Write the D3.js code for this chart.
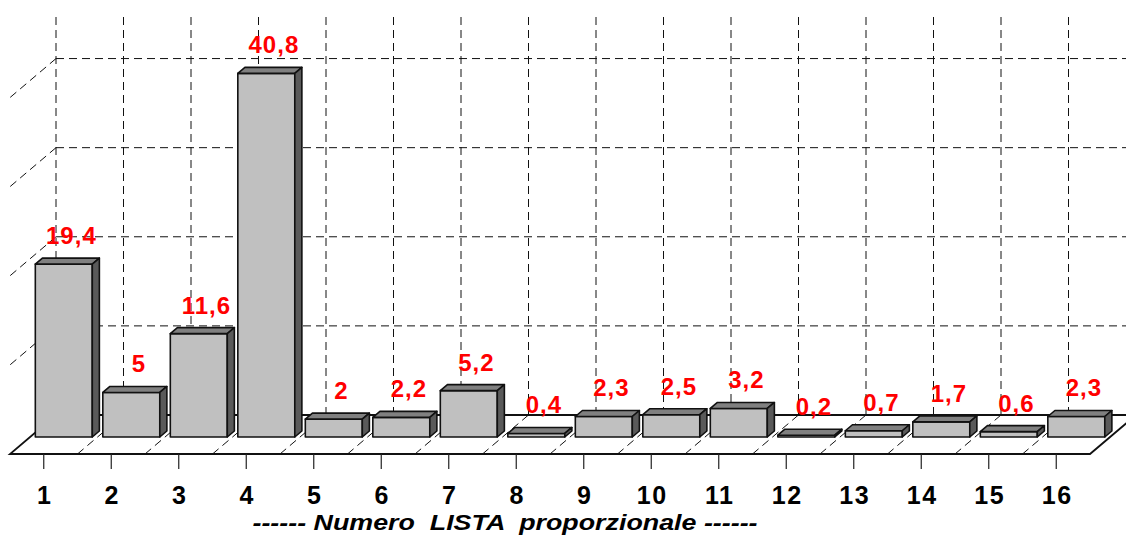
<!DOCTYPE html>
<html>
<head>
<meta charset="utf-8">
<script src="https://cdn.jsdelivr.net/npm/d3@7"></script>
<style>
  html, body { margin: 0; padding: 0; background: #fff; }
</style>
</head>
<body>
<div id="MyChart"></div>
<script>
var categories = ["1","2","3","4","5","6","7","8","9","10","11","12","13","14","15","16"];
var values = [19.4, 5, 11.6, 40.8, 2, 2.2, 5.2, 0.4, 2.3, 2.5, 3.2, 0.2, 0.7, 1.7, 0.6, 2.3];
var labels = ["19,4","5","11,6","40,8","2","2,2","5,2","0,4","2,3","2,5","3,2","0,2","0,7","1,7","0,6","2,3"];
var gridValues = [10, 20, 30, 40];

var width = 1126, height = 535;
var floorY = 454;            // front edge of the floor
var depthX = 46, depthY = 39; // full depth offset
var zFront = 0.436, zBack = 0.59;

var x = d3.scaleBand()
    .domain(categories)
    .range([10, 1090])
    .padding(0);

var y = d3.scaleLinear()
    .domain([0, 45])
    .range([0, 401]);

// oblique projection: px, value, depth -> screen
function P(px, v, z) {
  return [px + z * depthX, floorY - z * depthY - y(v)];
}

var svg = d3.select("#MyChart").append("svg")
    .attr("width", width)
    .attr("height", height)
    .style("font-family", "'Liberation Sans', Arial, sans-serif");

var x0 = x.range()[0], x1 = x.range()[1];
var gridColor = "#111", dash = "8,5";
var line = d3.line();

// back wall vertical gridlines
var bounds = d3.range(categories.length + 1).map(function(i) { return x0 + i * x.step(); });
svg.append("g").selectAll("line")
    .data(bounds)
    .enter().append("line")
    .attr("x1", function(d) { return P(d, 0, 1)[0]; })
    .attr("x2", function(d) { return P(d, 0, 1)[0]; })
    .attr("y1", P(0, 0, 1)[1])
    .attr("y2", P(0, 45, 1)[1])
    .style("stroke", gridColor)
    .style("stroke-dasharray", dash);

// back wall horizontal gridlines
svg.append("g").selectAll("line")
    .data(gridValues)
    .enter().append("line")
    .attr("x1", P(x0, 0, 1)[0])
    .attr("x2", P(x1, 0, 1)[0])
    .attr("y1", function(d) { return P(0, d, 1)[1]; })
    .attr("y2", function(d) { return P(0, d, 1)[1]; })
    .style("stroke", gridColor)
    .style("stroke-dasharray", dash);

// side wall gridlines
svg.append("g").selectAll("path")
    .data(gridValues)
    .enter().append("path")
    .attr("d", function(d) { return line([P(x0, d, 1), P(x0, d, 0)]); })
    .style("stroke", gridColor)
    .style("stroke-dasharray", dash);

// floor gridlines
svg.append("g").selectAll("path")
    .data(bounds.slice(1, -1))
    .enter().append("path")
    .attr("d", function(d) { return line([P(d, 0, 0), P(d, 0, 1)]); })
    .style("stroke", gridColor)
    .style("stroke-dasharray", dash);

// floor outline
svg.append("path")
    .attr("d", line([P(x0, 0, 0), P(x1, 0, 0), P(x1, 0, 1), P(x0, 0, 1)]) + "Z")
    .style("fill", "none")
    .style("stroke", "#111")
    .style("stroke-width", 1.8);

// bars
var inset = x.bandwidth() * 0.078;
var bw = x.bandwidth() - 2 * inset;
var bars = svg.append("g").selectAll("g")
    .data(values)
    .enter().append("g");

bars.append("path") // front
    .attr("d", function(d, i) {
      var l = x(categories[i]) + inset, r = l + bw;
      return line([P(l, 0, zFront), P(r, 0, zFront), P(r, d, zFront), P(l, d, zFront)]) + "Z";
    })
    .style("fill", "#c0c0c0");

bars.append("path") // top
    .attr("d", function(d, i) {
      var l = x(categories[i]) + inset, r = l + bw;
      return line([P(l, d, zFront), P(r, d, zFront), P(r, d, zBack), P(l, d, zBack)]) + "Z";
    })
    .style("fill", "#808080");

bars.append("path") // side
    .attr("d", function(d, i) {
      var r = x(categories[i]) + inset + bw;
      return line([P(r, 0, zFront), P(r, 0, zBack), P(r, d, zBack), P(r, d, zFront)]) + "Z";
    })
    .style("fill", "#5a5a5a");

bars.selectAll("path")
    .style("stroke", "#111")
    .style("stroke-width", 1.6)
    .style("stroke-linejoin", "round");

// value labels
svg.append("g").selectAll("text")
    .data(values)
    .enter().append("text")
    .attr("x", function(d, i) { return P(x(categories[i]) + x.bandwidth() / 2, d, zBack)[0] + 0.5; })
    .attr("y", function(d) { return P(0, d, zBack)[1] - 14; })
    .attr("text-anchor", "middle")
    .style("font-size", "24px")
    .style("font-weight", "bold")
    .style("letter-spacing", "1px")
    .style("fill", "#ff0000")
    .text(function(d, i) { return labels[i]; });

// x axis
var axis = svg.append("g")
    .attr("transform", "translate(0," + floorY + ")")
    .call(d3.axisBottom(x).tickSize(15).tickPadding(17));
axis.select(".domain").remove();
axis.selectAll(".tick line").style("stroke", "#222").style("stroke-width", 1.2);
axis.selectAll(".tick text")
    .style("font-family", "'Liberation Sans', Arial, sans-serif")
    .style("font-size", "25px")
    .style("font-weight", "bold")
    .style("letter-spacing", "1.5px")
    .attr("dx", "1px")
    .style("fill", "#000");

svg.append("text")
    .attr("x", 505)
    .attr("y", 530)
    .attr("text-anchor", "middle")
    .attr("xml:space", "preserve")
    .attr("textLength", 505)
    .attr("lengthAdjust", "spacingAndGlyphs")
    .style("font-size", "22px")
    .style("font-weight", "bold")
    .style("font-style", "italic")
    .style("white-space", "pre")
    .style("fill", "#000")
    .text("------ Numero  LISTA  proporzionale ------");
</script>
</body>
</html>
